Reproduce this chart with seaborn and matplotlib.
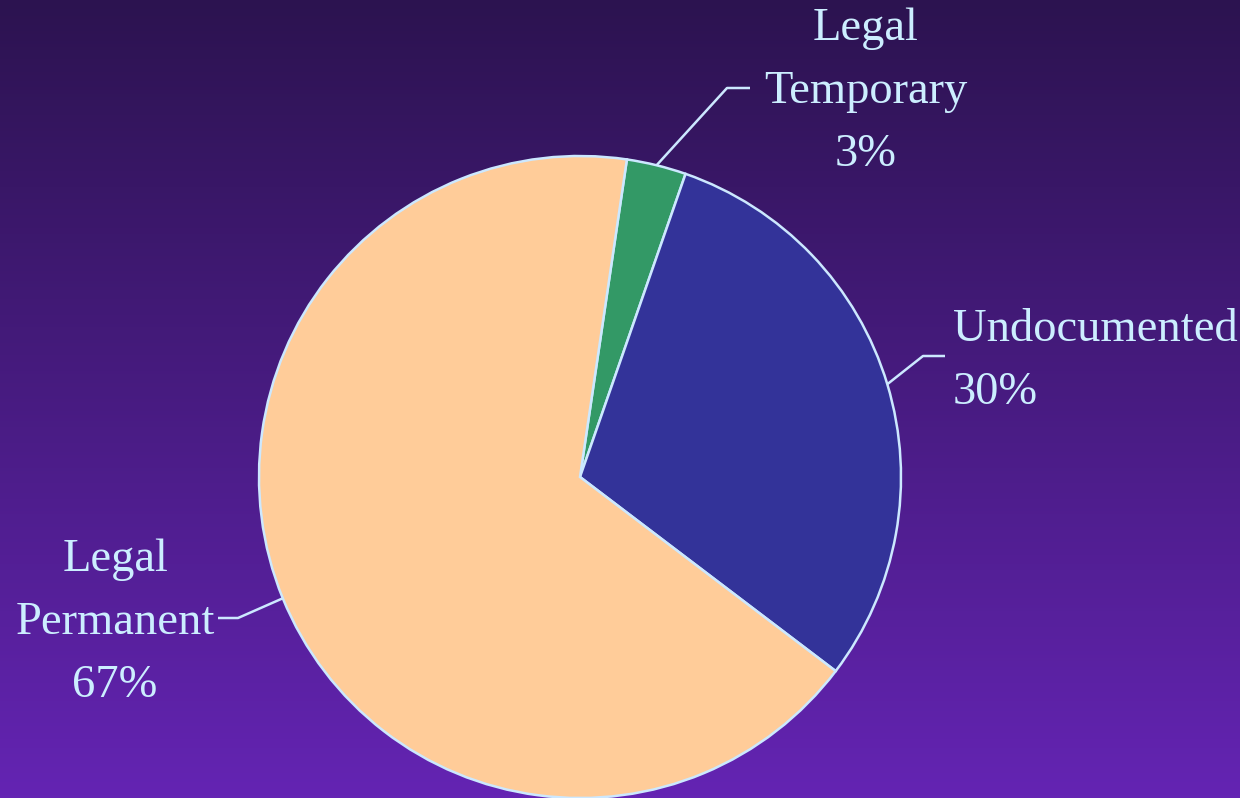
import numpy as np
import matplotlib
matplotlib.use('Agg')
import matplotlib.pyplot as plt
from matplotlib.colors import LinearSegmentedColormap
import seaborn as sns

categories = ['Legal Temporary', 'Undocumented', 'Legal Permanent']
label_texts = ['Legal\nTemporary\n3%', 'Undocumented\n30%', 'Legal\nPermanent\n67%']
shares = [3, 30, 67]
colors = ['#339966', '#333399', '#ffcc99']

sns.set_theme(style='white')
plt.rcParams['font.family'] = ['Liberation Serif', 'DejaVu Serif']

W, H = 1240, 798
fig = plt.figure(figsize=(W / 100, H / 100), dpi=100)

bg = fig.add_axes([0, 0, 1, 1])
bg.axis('off')
grad = np.linspace(0, 1, 256)[:, None]
cmap = LinearSegmentedColormap.from_list('bg', ['#2c1350', '#6424b3'])
bg.imshow(grad, aspect='auto', cmap=cmap, extent=[0, 1, 0, 1], origin='upper')

ax = fig.add_axes([0, 0, 1, 1], zorder=1)
ax.patch.set_alpha(0)
cx, cy, R = 580, H - 477, 321
edge = '#cce8ff'
wedges, _ = ax.pie(shares, colors=colors, startangle=81.6, counterclock=False,
                   center=(cx, cy), radius=R,
                   wedgeprops=dict(edgecolor=edge, linewidth=1.8))
ax.set_xlim(0, W)
ax.set_ylim(0, H)
ax.axis('off')

txt_color = '#cceeff'
# label layout: (elbow, end, text pos, ha)
layout = [
    ((727, H - 88), (750, H - 88), (866, H - 92), 'center'),
    ((923, H - 356), (945, H - 356), (953, H - 361), 'left'),
    ((238, H - 618), (218, H - 618), (115, H - 623), 'center'),
]
for w, lab, (elb, end, tp, ha) in zip(wedges, label_texts, layout):
    mid = np.deg2rad((w.theta1 + w.theta2) / 2)
    sx, sy = cx + R * np.cos(mid), cy + R * np.sin(mid)
    ax.plot([sx, elb[0], end[0]], [sy, elb[1], end[1]], color=edge, lw=1.8,
            solid_capstyle='butt')
    ax.text(tp[0], tp[1], lab, ha=ha, va='center', ma='center' if ha == 'center' else 'left',
            fontsize=33.5, color=txt_color, linespacing=1.63)

fig.savefig('out.png', dpi=100)
